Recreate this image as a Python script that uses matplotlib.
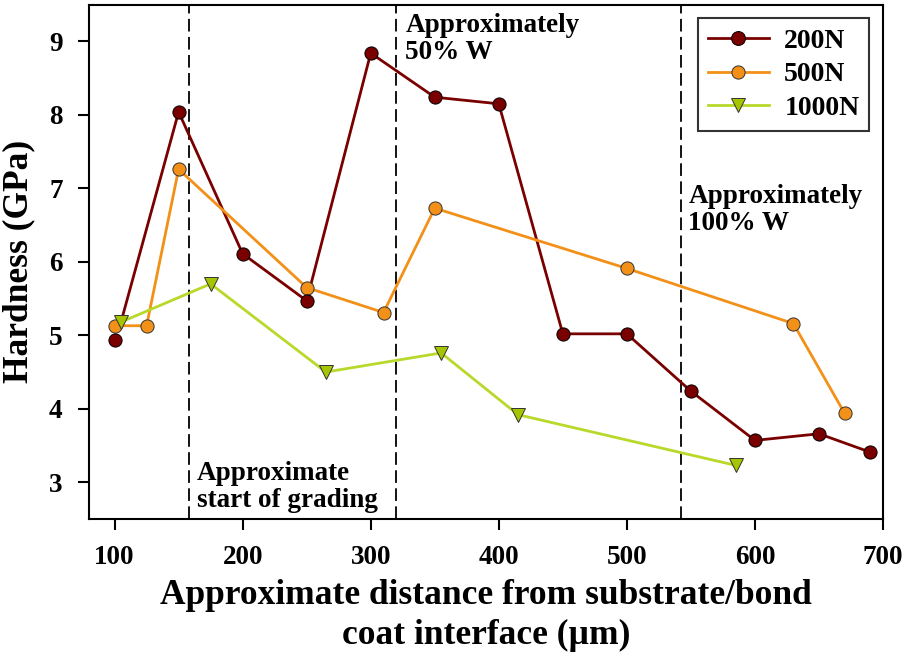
import matplotlib.pyplot as plt
import numpy as np

plt.rcParams["font.family"] = "Liberation Serif"
plt.rcParams["font.weight"] = "bold"

# 200N: the line starts at the 105 um point (hidden under the 1000N triangle)
x200 = [100, 105, 150, 200, 250, 300, 350, 400, 450, 500, 550, 600, 650, 690]
y200 = [4.94, 5.18, 8.04, 6.11, 5.47, 8.84, 8.24, 8.15, 5.02, 5.02, 4.24, 3.57, 3.66, 3.41]

x500 = [100, 125, 150, 250, 310, 350, 500, 630, 670]
y500 = [5.13, 5.13, 7.26, 5.65, 5.31, 6.73, 5.91, 5.16, 3.94]

x1000 = [105, 175, 265, 355, 415, 585]
y1000 = [5.18, 5.70, 4.50, 4.76, 3.92, 3.23]

boundaries = [158, 320, 542]

fig = plt.figure(figsize=(9.05, 6.57), dpi=100)
ax = fig.add_axes([0.0983, 0.21, 0.8774, 0.783])

c200 = "#7a0000"
c500 = "#f29018"
c1000_line = "#b8d82a"
c1000_face = "#a6c400"

for xb in boundaries:
    ax.axvline(xb, color="black", lw=1.3, ls=(0, (7, 3)), zorder=1)

ax.plot(x200[1:], y200[1:], color=c200, lw=2, zorder=3)
ax.plot(np.delete(x200, 1), np.delete(y200, 1), ls="none", marker="o", ms=9.5,
        mfc=c200, mec="black", mew=0.7, zorder=4)
ax.plot([], [], color=c200, lw=2, marker="o", ms=10, mfc=c200, mec="black",
        mew=0.7, label="200N")

ax.plot(x500, y500, color=c500, lw=2, marker="o", ms=9.5, mfc=c500,
        mec="#333333", mew=0.7, label="500N", zorder=3)

ax.plot(x1000, y1000, color=c1000_line, lw=2, marker="v", ms=10.5,
        mfc=c1000_face, mec="#333333", mew=0.7, label="1000N", zorder=5)

ax.text(164, 2.58, "Approximate\nstart of grading", fontsize=19.5,
        fontweight="bold", va="bottom", ha="left", linespacing=1.1)
ax.text(327, 9.39, "Approximately\n50% W", fontsize=19.5,
        fontweight="bold", va="top", ha="left", linespacing=1.1)
ax.text(548, 7.06, "Approximately\n100% W", fontsize=19.5,
        fontweight="bold", va="top", ha="left", linespacing=1.1)

ax.set_xlim(80, 700)
ax.set_ylim(2.5, 9.5)
ax.set_xticks([100, 200, 300, 400, 500, 600, 700])
ax.set_yticks([3, 4, 5, 6, 7, 8, 9])
ax.tick_params(axis="both", direction="out", length=8, width=1.5,
               labelsize=19.5, pad=11)
for side in ax.spines.values():
    side.set_linewidth(1.5)

ax.set_xlabel("Approximate distance from substrate/bond\ncoat interface (\u00b5m)",
              fontsize=25.5, fontweight="bold", linespacing=1.3, labelpad=6)
ax.set_ylabel("Hardness (GPa)", fontsize=25.5, fontweight="bold", labelpad=10)

leg = ax.legend(loc="upper right", fontsize=20, frameon=True, fancybox=False,
                edgecolor="black", handlelength=2.2, borderpad=0.35,
                labelspacing=0.3, handletextpad=0.55, borderaxespad=0.5)
leg.get_frame().set_linewidth(1.5)

plt.savefig("out.png", dpi=100)
